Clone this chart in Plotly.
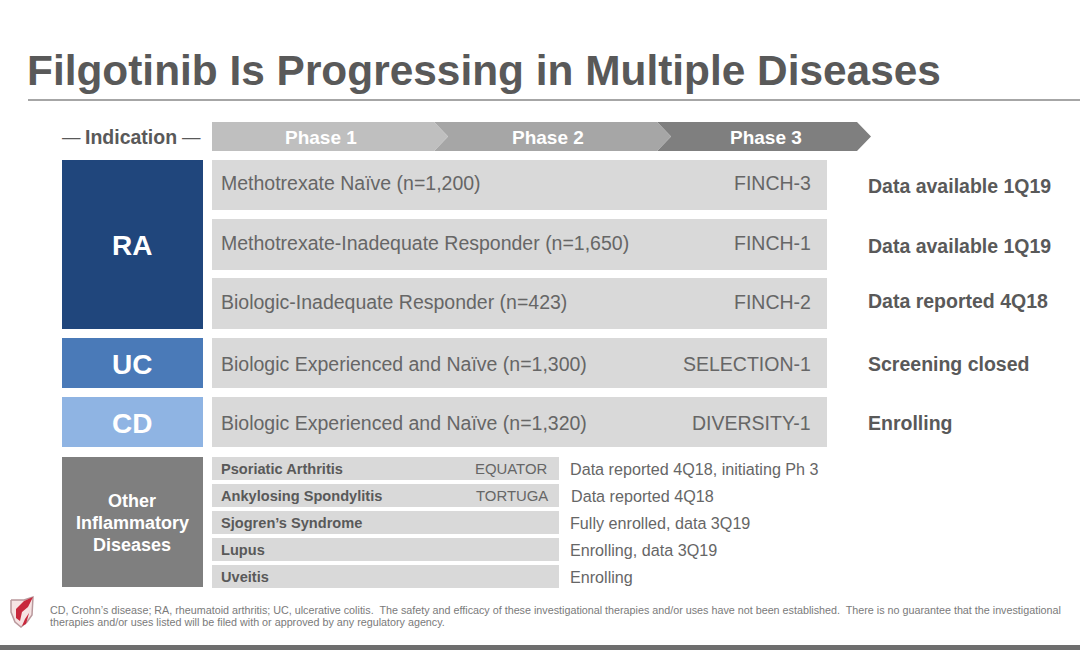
import plotly.graph_objects as go

# slide is laid out in pixel units, y runs downwards
FONT = "Liberation Sans"
TEXT = "#666666"
DARK = "#595959"
BAR = "#d9d9d9"

indications = [
    {"lines": [("RA", 245)], "top": 160, "bottom": 329, "color": "#20467c", "size": 28},
    {"lines": [("UC", 364)], "top": 338, "bottom": 388, "color": "#4a7ab8", "size": 28},
    {"lines": [("CD", 423)], "top": 397, "bottom": 447, "color": "#8fb4e3", "size": 28},
    {"lines": [("Other", 501), ("Inflammatory", 523), ("Diseases", 545)], "top": 457, "bottom": 587,
     "color": "#7f7f7f", "size": 18},
]

# label, trial, status, top, bottom, label y, status y
trials = [
    ("Methotrexate Naïve (n=1,200)", "FINCH-3", "Data available 1Q19", 160, 210, 183, 186),
    ("Methotrexate-Inadequate Responder (n=1,650)", "FINCH-1", "Data available 1Q19", 219, 270, 243, 246),
    ("Biologic-Inadequate Responder (n=423)", "FINCH-2", "Data reported 4Q18", 278, 329, 302, 301),
    ("Biologic Experienced and Naïve (n=1,300)", "SELECTION-1", "Screening closed", 338, 388, 364, 364),
    ("Biologic Experienced and Naïve (n=1,320)", "DIVERSITY-1", "Enrolling", 397, 447, 423, 423),
]

others = [
    ("Psoriatic Arthritis", "EQUATOR", "Data reported 4Q18, initiating Ph 3", 457, 480),
    ("Ankylosing Spondylitis", "TORTUGA", "Data reported 4Q18", 484, 507),
    ("Sjogren’s Syndrome", "", "Fully enrolled, data 3Q19", 511, 534),
    ("Lupus", "", "Enrolling, data 3Q19", 538, 561),
    ("Uveitis", "", "Enrolling", 565, 588),
]

phases = [
    ("Phase 3", 657, 857, "#7f7f7f", 766),
    ("Phase 2", 434, 657, "#a6a6a6", 548),
    ("Phase 1", 212, 434, "#bfbfbf", 321),
]
TIP = 14


def add_box(fig, left, right, top, bottom, color):
    fig.add_trace(go.Bar(
        y=[(top + bottom) / 2], x=[right - left], base=[left], width=[bottom - top],
        orientation="h", marker=dict(color=color, line=dict(width=0)), showlegend=False,
    ))


def add_text(text, x, y, size, color=TEXT, bold=False, anchor="left"):
    fig.add_annotation(
        x=x, y=y, text=f"<b>{text}</b>" if bold else text, showarrow=False,
        xanchor=anchor, yanchor="middle", align="center" if anchor == "center" else anchor,
        font=dict(family=FONT, size=size, color=color), borderpad=0, borderwidth=0,
    )


fig = go.Figure()

for name, left, right, color, cx in phases:
    notch = left + TIP if left > 212 else left
    fig.add_trace(go.Scatter(
        x=[left, right, right + TIP, right, left, notch, left],
        y=[122, 122, 136.5, 151, 151, 136.5, 122],
        mode="lines", fill="toself", fillcolor=color, line=dict(width=0), showlegend=False,
    ))

for item in indications:
    add_box(fig, 62, 203, item["top"], item["bottom"], item["color"])
for row in trials:
    add_box(fig, 212, 827, row[3], row[4], BAR)
for row in others:
    add_box(fig, 212, 559, row[3], row[4], BAR)

# heading rule and bottom strip
add_box(fig, 28, 1080, 99.5, 101, "#a6a6a6")
add_box(fig, 0, 1080, 645, 650, "#6e6e6e")

# logo: pale shield, red blade, white feather
fig.add_trace(go.Scatter(
    x=[11, 24, 33, 32, 27, 21, 15, 11, 11],
    y=[600, 600, 597, 615, 622, 627, 622, 612, 600],
    mode="lines", fill="toself", fillcolor="#f6e3e3", line=dict(color="#b9989c", width=1.5), showlegend=False,
))
fig.add_trace(go.Scatter(
    x=[33, 24, 16, 16, 20, 22, 28, 33],
    y=[597, 601, 609, 618, 621, 612, 607, 597],
    mode="lines", fill="toself", fillcolor="#c8283c", line=dict(width=0), showlegend=False,
))
fig.add_trace(go.Scatter(
    x=[31, 29, 25, 22, 26, 31],
    y=[606, 613, 619, 626, 624, 606],
    mode="lines", fill="toself", fillcolor="#c8283c", line=dict(width=0), showlegend=False,
))

add_text("Filgotinib Is Progressing in Multiple Diseases", 27, 70, 42.4, DARK, True)
add_text("—", 62, 136, 18.5, DARK)
add_text("Indication", 131, 137, 19.5, DARK, True, "center")
add_text("—", 201, 136, 18.5, DARK, anchor="right")

for name, left, right, color, cx in phases:
    add_text(name, cx, 137.5, 19, "#ffffff", True, "center")

for item in indications:
    for line, y in item["lines"]:
        add_text(line, 132, y, item["size"], "#ffffff", True, "center")

for label, trial, status, top, bottom, label_y, status_y in trials:
    add_text(label, 221, label_y, 19.5)
    add_text(trial, 811, label_y, 19.5, anchor="right")
    add_text(status, 868, status_y, 19.5, DARK, True)

for (label, trial, status, top, bottom), note_x in zip(others, [570, 571, 570, 570, 570]):
    middle = (top + bottom) / 2
    add_text(label, 221, middle, 14.6, DARK, True)
    if trial:
        add_text(trial, 548, middle, 14.9, anchor="right")
    add_text(status, note_x, middle, 16.15)

add_text("CD, Crohn’s disease; RA, rheumatoid arthritis; UC, ulcerative colitis.  The safety and efficacy of these "
         "investigational therapies and/or uses have not been established.  There is no guarantee that the investigational",
         50, 610, 10.75, "#7a7a7a")
add_text("therapies and/or uses listed will be filed with or approved by any regulatory agency.", 50, 622, 10.75, "#7a7a7a")

fig.update_layout(
    width=1080, height=650, margin=dict(l=0, r=0, t=0, b=0),
    paper_bgcolor="white", plot_bgcolor="white", barmode="overlay", bargap=0,
    xaxis=dict(range=[0, 1080], visible=False, fixedrange=True),
    yaxis=dict(range=[650, 0], visible=False, fixedrange=True),
    showlegend=False,
)
# the page's default body margin would push the slide 8px off
fig.write_html("out.html", config={"displayModeBar": False},
               post_script="document.body.style.margin = '0';")
